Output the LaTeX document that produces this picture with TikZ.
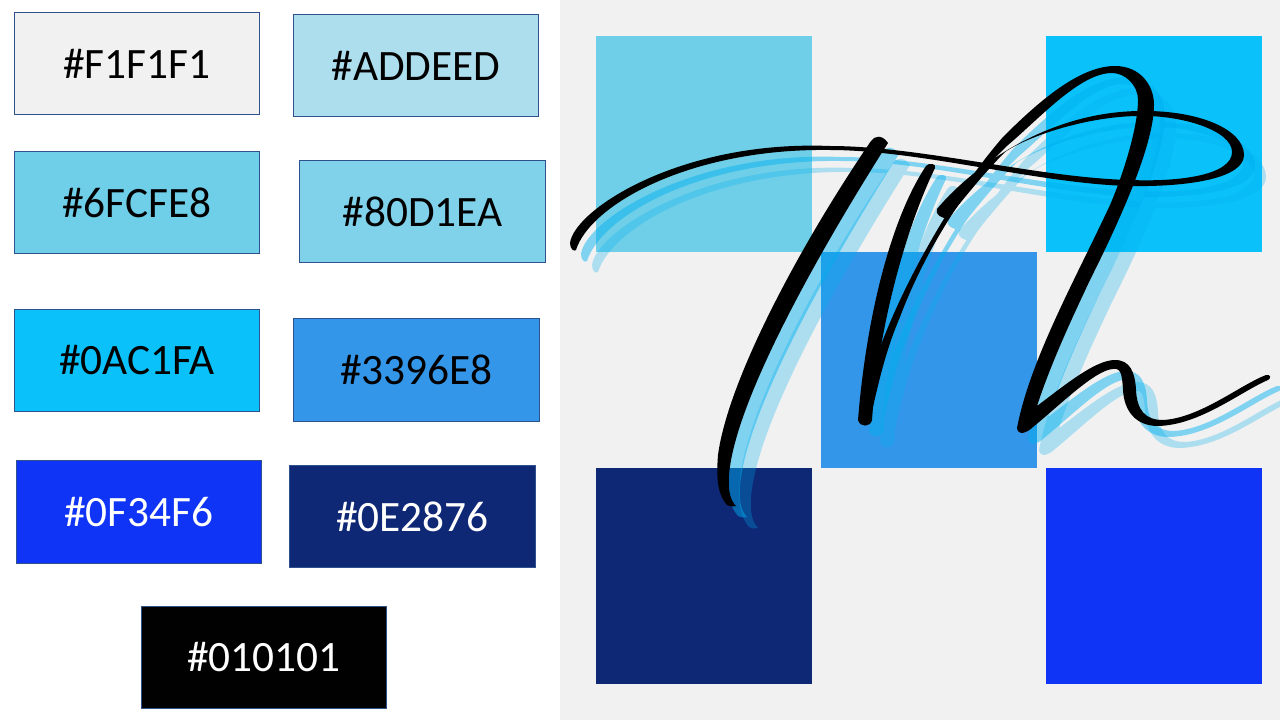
\documentclass[tikz,border=0pt]{standalone}
\usepackage{fontspec}
\setmainfont{Carlito}
\newlength{\du}
\setlength{\du}{0.75pt}
\definecolor{panelcolor}{HTML}{F1F1F1}
\definecolor{swatchline}{HTML}{2F528F}
\definecolor{sqpale}{HTML}{ADDEED}
\definecolor{sqsoft}{HTML}{80D1EA}
\definecolor{sqlight}{HTML}{6FCFE8}
\definecolor{sqsky}{HTML}{0AC1FA}
\definecolor{sqmid}{HTML}{3396E8}
\definecolor{sqnavy}{HTML}{0E2876}
\definecolor{sqblue}{HTML}{0F34F6}
\definecolor{inkcolor}{HTML}{010101}
\definecolor{shadowcolor}{HTML}{00B0F0}
\tikzset{
  swatch/.style={draw=swatchline, line width=0.7pt, minimum width=245\du, minimum height=102\du, inner sep=0pt, font=\fontsize{32.5}{38}\selectfont},
  square/.style={inner sep=0pt, minimum size=216\du}
}
% the pen strokes of the lettering
\newcommand{\lettering}[1]{
\fill[#1] (888,143) .. controls (820,250) and (735,400) .. (729,475)
  .. controls (728,490) and (730,500) .. (736,506)
  .. controls (732,507) and (729,506) .. (727,505)
  .. controls (718,495) and (716,480) .. (718,455)
  .. controls (728,380) and (800,245) .. (871,141)
  .. controls (874,136) and (882,134) .. (888,143) -- cycle;
\fill[#1] (935,168) .. controls (905,230) and (878,330) .. (872,420)
  .. controls (871,427) and (860,428) .. (858,420)
  .. controls (866,320) and (890,220) .. (926,166)
  .. controls (929,162) and (937,164) .. (935,168) -- cycle;
\fill[#1] (570,243) .. controls (574,210) and (680,140) .. (830,146)
  .. controls (920,146) and (1040,178) .. (1130,180)
  .. controls (1180,182) and (1232,175) .. (1232,152)
  .. controls (1232,130) and (1180,115) .. (1140,116)
  .. controls (1090,116) and (1030,135) .. (1005,152)
  .. controls (985,172) and (965,197) .. (948,218)
  .. controls (944,220) and (934,214) .. (937,209)
  .. controls (965,175) and (1040,112) .. (1140,111)
  .. controls (1200,110) and (1244,130) .. (1244,155)
  .. controls (1244,178) and (1190,187) .. (1130,186)
  .. controls (1040,184) and (920,150) .. (830,150)
  .. controls (690,148) and (590,205) .. (576,250)
  .. controls (574,252) and (570,249) .. (570,243) -- cycle;
\fill[#1] (866,400) .. controls (872,345) and (935,215) .. (1003,137)
  .. controls (1040,100) and (1080,66) .. (1115,66)
  .. controls (1140,66) and (1154,85) .. (1154,105)
  .. controls (1154,150) and (1110,240) .. (1090,280)
  .. controls (1075,312) and (1052,360) .. (1037,406)
  .. controls (1065,385) and (1095,360) .. (1115,360)
  .. controls (1130,360) and (1135,372) .. (1136,390)
  .. controls (1137,410) and (1145,420) .. (1163,420)
  .. controls (1200,418) and (1240,385) .. (1266,375)
  .. controls (1270,374) and (1272,378) .. (1268,380)
  .. controls (1240,392) and (1200,425) .. (1158,426)
  .. controls (1135,426) and (1124,410) .. (1123,390)
  .. controls (1122,372) and (1120,368) .. (1113,369)
  .. controls (1095,370) and (1060,405) .. (1033,427)
  .. controls (1027,433) and (1018,436) .. (1017,428)
  .. controls (1030,360) and (1075,280) .. (1110,205)
  .. controls (1125,170) and (1138,125) .. (1138,100)
  .. controls (1138,85) and (1125,73) .. (1112,73)
  .. controls (1080,73) and (1040,118) .. (1008,145)
  .. controls (970,180) and (925,250) .. (900,317)
  .. controls (885,352) and (878,385) .. (870,420) -- cycle;
}

\begin{document}
\begin{tikzpicture}[x=\du,y=-\du]
\useasboundingbox (0,0) rectangle (1280,720);
\fill[white] (0,0) rectangle (560,720);
\fill[panelcolor] (560,0) rectangle (1280,720);
% colour swatches
\node[swatch, fill=panelcolor, text=black] (swatchone) at (137,63.5) {\#F1F1F1};
\node[swatch, fill=sqpale, text=black] (swatchtwo) at (416,65.5) {\#ADDEED};
\node[swatch, fill=sqlight, text=black] (swatchthree) at (137,202.5) {\#6FCFE8};
\node[swatch, fill=sqsoft, text=black, minimum width=246\du] (swatchfour) at (422.5,211.5) {\#80D1EA};
\node[swatch, fill=sqsky, text=black] (swatchfive) at (137,360.5) {\#0AC1FA};
\node[swatch, fill=sqmid, text=black, minimum width=246\du, minimum height=103\du] (swatchsix) at (416.5,370) {\#3396E8};
\node[swatch, fill=sqblue, text=white, minimum height=103\du] (swatchseven) at (139,512) {\#0F34F6};
\node[swatch, fill=sqnavy, text=white, minimum width=246\du] (swatcheight) at (412.5,516.5) {\#0E2876};
\node[swatch, fill=inkcolor, text=white] (swatchnine) at (264,657.5) {\#010101};
% logo squares
\node[square, fill=sqlight] (squareone) at (704,144) {};
\node[square, fill=sqsky] (squaretwo) at (1154,144) {};
\node[square, fill=sqmid] (squarethree) at (929,360) {};
\node[square, fill=sqnavy] (squarefour) at (704,576) {};
\node[square, fill=sqblue] (squarefive) at (1154,576) {};
% lettering with its two shadows
\begin{scope}[shift={(22,22)}, transparency group, opacity=0.28]
\lettering{shadowcolor}
\end{scope}
\begin{scope}[shift={(11,11)}, transparency group, opacity=0.47]
\lettering{shadowcolor}
\end{scope}
\lettering{black}
\end{tikzpicture}
\end{document}
